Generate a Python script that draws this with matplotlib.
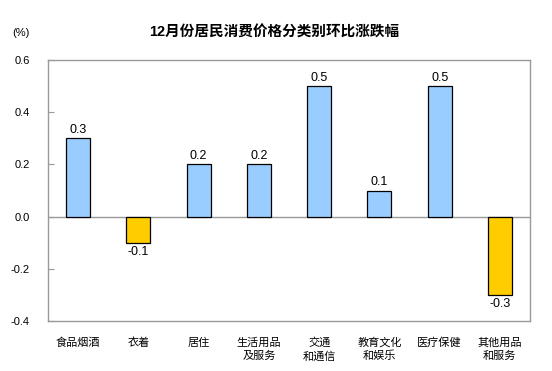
import matplotlib
matplotlib.use("Agg")
import matplotlib.pyplot as plt

plt.rcParams['font.family'] = ['Liberation Sans', 'Noto Sans CJK SC', 'DejaVu Sans']

categories = ["食品烟酒", "衣着", "居住", "生活用品\n及服务", "交通\n和通信", "教育文化\n和娱乐", "医疗保健", "其他用品\n和服务"]
values = [0.3, -0.1, 0.2, 0.2, 0.5, 0.1, 0.5, -0.3]
yticks = [-0.4, -0.2, 0.0, 0.2, 0.4, 0.6]

fig = plt.figure(figsize=(5.52, 3.71), dpi=100)
ax = fig.add_axes([48/552, 1-321/371, 482/552, 261/371])

colors = ["#99CCFF" if v >= 0 else "#FFCC00" for v in values]
x = range(len(values))
ax.bar(x, values, width=0.4, color=colors, edgecolor="black", linewidth=0.9, zorder=3)
ax.axhline(0, color="#999999", linewidth=1, zorder=2)

for i, v in enumerate(values):
    if v >= 0:
        ax.text(i, v + 0.008, "%.1f" % v, ha="center", va="bottom", fontsize=9)
    else:
        ax.text(i, v - 0.012, "%.1f" % v, ha="center", va="top", fontsize=9)

ax.set_xlim(-0.5, len(values) - 0.5)
ax.set_ylim(-0.4, 0.6)
ax.set_yticks(yticks)
ax.set_yticklabels(["%.1f" % t for t in yticks], fontsize=8)
ax.tick_params(axis="y", direction="in", length=4, color="#999999", pad=13)
ax.set_xticks(list(x))
ax.set_xticklabels(categories, fontsize=8, linespacing=1.3, va="top")
ax.tick_params(axis="x", length=0, pad=12)
for s in ax.spines.values():
    s.set_color("#999999")
    s.set_linewidth(1)

fig.text(274/552, 1-33/371, "12月份居民消费价格分类别环比涨跌幅", ha="center", va="center",
         fontsize=10.5, fontweight="bold")
fig.text(21/552, 1-33/371, "(%)", ha="center", va="center", fontsize=8)

fig.savefig("out.png", dpi=100)
